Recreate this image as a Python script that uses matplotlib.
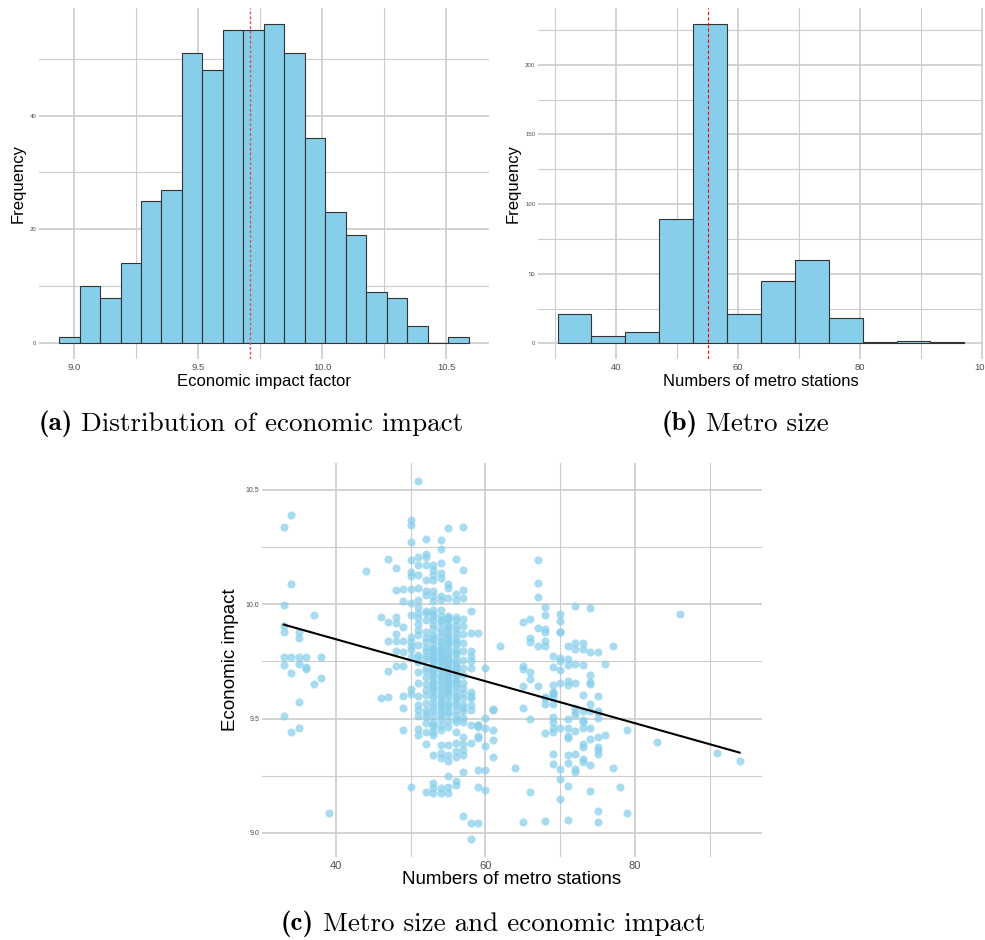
import numpy as np
import matplotlib.pyplot as plt
from matplotlib.ticker import MultipleLocator

plt.rcParams['font.family'] = ['Liberation Sans', 'DejaVu Sans']

# (a) histogram of the economic impact factor
impact_counts = [1, 10, 8, 14, 25, 27, 51, 48, 55, 55, 56, 51, 36, 23, 19, 9, 8, 3, 0, 1]
impact_bin_range = (8.941, 10.589)
impact_mean = 9.709

# (b) histogram of metro size
station_counts = [21, 5, 8, 89, 229, 21, 45, 60, 18, 1, 2, 1]
station_bin_range = (30.5, 97.05)
station_mean = 55.06

# (c) scatter: stations per metro and the impact values found in that column
station_cols = [33, 34, 35, 36, 37, 38, 39, 44, 46, 47, 48, 49, 50, 51, 52,
                53, 54, 55, 56, 57, 58, 59, 60, 61, 62, 64, 65, 66, 67, 68,
                69, 70, 71, 72, 73, 74, 75, 76, 77, 78, 79, 83, 86, 91, 94]
impact_cols = [
    [10.338, 9.997, 9.906, 9.877, 9.767, 9.732, 9.512],
    [10.389, 10.087, 9.767, 9.698, 9.440],
    [9.877, 9.850, 9.770, 9.740, 9.574, 9.459],
    [9.770, 9.727, 9.718],
    [9.953, 9.650],
    [9.770, 9.677],
    [9.088],
    [10.146],
    [9.943, 9.590],
    [10.195, 9.923, 9.838, 9.708, 9.592],
    [10.157, 10.063, 9.943, 9.918, 9.869, 9.838, 9.795, 9.730],
    [10.068, 10.013, 9.901, 9.840, 9.789, 9.730, 9.598, 9.548, 9.450],
    [10.367, 10.344, 10.272, 10.192, 10.140, 10.125, 10.068, 10.006, 9.953,
     9.857, 9.835, 9.815, 9.800, 9.768, 9.628, 9.607, 9.203],
    [10.540, 10.208, 10.172, 10.128, 10.070, 10.020, 9.988, 9.963, 9.940,
     9.914, 9.888, 9.866, 9.822, 9.779, 9.771, 9.745, 9.705, 9.655, 9.600,
     9.560, 9.538, 9.512, 9.455, 9.430],
    [10.285, 10.217, 10.205, 10.169, 10.107, 10.057, 10.040, 9.969, 9.960,
     9.930, 9.876, 9.850, 9.835, 9.810, 9.795, 9.774, 9.760, 9.720, 9.708,
     9.680, 9.650, 9.625, 9.604, 9.570, 9.538, 9.523, 9.508, 9.480, 9.440,
     9.387, 9.181],
    [10.169, 10.151, 10.129, 10.107, 10.057, 10.035, 10.013, 9.976, 9.958,
     9.929, 9.907, 9.867, 9.846, 9.824, 9.802, 9.780, 9.758, 9.740, 9.720,
     9.698, 9.677, 9.655, 9.633, 9.604, 9.567, 9.531, 9.487, 9.465, 9.443,
     9.429, 9.342, 9.218, 9.196, 9.174,
     9.950, 9.890, 9.850, 9.810, 9.790, 9.770, 9.750, 9.710, 9.690, 9.660,
     9.640, 9.620, 9.590, 9.550, 9.510, 9.470],
    [10.280, 10.243, 10.180, 10.137, 10.115, 10.035, 10.020, 9.976, 9.948,
     9.921, 9.896, 9.860, 9.832, 9.802, 9.780, 9.758, 9.749, 9.720, 9.691,
     9.662, 9.633, 9.604, 9.574, 9.545, 9.516, 9.472, 9.385, 9.349, 9.327,
     9.196, 9.174,
     9.930, 9.880, 9.840, 9.810, 9.790, 9.770, 9.740, 9.710, 9.680, 9.650,
     9.620, 9.590, 9.560, 9.530, 9.500, 9.450],
    [10.332, 10.086, 10.071, 10.028, 9.950, 9.933, 9.911, 9.890, 9.875,
     9.846, 9.824, 9.795, 9.780, 9.760, 9.740, 9.720, 9.700, 9.680, 9.660,
     9.640, 9.620, 9.600, 9.575, 9.550, 9.520, 9.490, 9.465, 9.385, 9.342,
     9.315, 9.250, 9.203, 9.174,
     9.940, 9.900, 9.860, 9.835, 9.810, 9.770, 9.750, 9.730, 9.710, 9.690,
     9.670, 9.650, 9.630, 9.610, 9.560, 9.530],
    [10.195, 10.046, 10.020, 9.944, 9.930, 9.890, 9.875, 9.853, 9.824,
     9.802, 9.780, 9.749, 9.727, 9.705, 9.684, 9.662, 9.640, 9.618, 9.589,
     9.560, 9.538, 9.516, 9.487, 9.443, 9.393, 9.356, 9.334, 9.225, 9.210,
     9.910, 9.840, 9.790, 9.760, 9.740, 9.715, 9.695, 9.670, 9.650, 9.600,
     9.570, 9.500],
    [10.336, 10.148, 10.061, 10.028, 9.933, 9.904, 9.831, 9.795, 9.756,
     9.691, 9.655, 9.633, 9.589, 9.560, 9.531, 9.502, 9.487, 9.421, 9.389,
     9.363, 9.342, 9.266, 9.072,
     9.870, 9.720, 9.610, 9.545],
    [9.969, 9.875, 9.795, 9.773, 9.720, 9.618, 9.589, 9.560, 9.538, 9.472,
     9.392, 9.043, 8.974, 9.600, 9.750],
    [9.875, 9.472, 9.461, 9.423, 9.417, 9.276, 9.203, 9.045, 9.470],
    [9.720, 9.502, 9.458, 9.378, 9.276, 9.188],
    [9.539, 9.451, 9.407, 9.334, 9.540],
    [9.819],
    [9.283],
    [9.921, 9.730, 9.716, 9.644, 9.545, 9.050],
    [9.936, 9.850, 9.835, 9.703, 9.674, 9.499, 9.178],
    [10.194, 10.093, 10.029, 9.895, 9.819, 9.641],
    [9.987, 9.952, 9.890, 9.877, 9.837, 9.815, 9.594, 9.590, 9.563, 9.436,
     9.053],
    [9.774, 9.726, 9.647, 9.618, 9.610, 9.608, 9.596, 9.563, 9.506, 9.484,
     9.458, 9.443, 9.344, 9.301],
    [9.958, 9.928, 9.880, 9.877, 9.765, 9.752, 9.711, 9.656, 9.458, 9.281,
     9.238, 9.149],
    [9.818, 9.761, 9.733, 9.663, 9.647, 9.500, 9.458, 9.424, 9.417, 9.340,
     9.305, 9.207, 9.057],
    [9.991, 9.831, 9.806, 9.739, 9.657, 9.544, 9.529, 9.517, 9.445, 9.344,
     9.280, 9.267],
    [9.830, 9.804, 9.732, 9.604, 9.535, 9.494, 9.484, 9.458, 9.389, 9.375,
     9.325, 9.310],
    [9.981, 9.790, 9.689, 9.659, 9.650, 9.563, 9.531, 9.458, 9.411, 9.298,
     9.184],
    [9.790, 9.598, 9.531, 9.530, 9.504, 9.420, 9.375, 9.363, 9.344, 9.098,
     9.049],
    [9.738, 9.430],
    [9.818, 9.283],
    [9.202],
    [9.451, 9.088],
    [9.398],
    [9.956],
    [9.349],
    [9.314],
]

stations = np.repeat(station_cols, [len(c) for c in impact_cols])
impact = np.concatenate(impact_cols)

grid_col = '#cccccc'
tick_col = '#4d4d4d'
bar_col = '#87ceeb'


def style_axes(ax, xmaj, xmin, ymaj, ymin, xsize, ysize):
    ax.xaxis.set_major_locator(MultipleLocator(xmaj))
    ax.xaxis.set_minor_locator(MultipleLocator(xmin))
    ax.yaxis.set_major_locator(MultipleLocator(ymaj))
    ax.yaxis.set_minor_locator(MultipleLocator(ymin))
    ax.grid(which='major', color=grid_col, lw=1.2)
    ax.grid(which='minor', color=grid_col, lw=0.8)
    ax.set_axisbelow(True)
    for s in ax.spines.values():
        s.set_visible(False)
    ax.tick_params(which='both', length=0, colors=tick_col)
    ax.tick_params(axis='x', labelsize=xsize, pad=3)
    ax.tick_params(axis='y', labelsize=ysize, pad=2)


fig = plt.figure(figsize=(9.85, 9.4), dpi=100)

# (a)
ax1 = fig.add_axes([0.0396, 0.618, 0.457, 0.3735])
edges = np.linspace(*impact_bin_range, len(impact_counts) + 1)
ax1.bar(edges[:-1], impact_counts, width=np.diff(edges), align='edge',
        color=bar_col, edgecolor='#333333', linewidth=0.8)
ax1.axvline(impact_mean, color='#cd5555', ls=(0, (2, 1.5)), lw=1.0)
ax1.set_xlim(8.86, 10.672)
ax1.set_ylim(-2.8, 58.9)
style_axes(ax1, 0.5, 0.25, 20, 10, 6.8, 4.3)
ax1.set_xlabel('Economic impact factor', fontsize=12, labelpad=1)
ax1.set_ylabel('Frequency', fontsize=12, labelpad=3)

# (b)
ax2 = fig.add_axes([0.5462, 0.618, 0.4518, 0.3735])
edges = np.linspace(*station_bin_range, len(station_counts) + 1)
ax2.bar(edges[:-1], station_counts, width=np.diff(edges), align='edge',
        color=bar_col, edgecolor='#333333', linewidth=0.8)
ax2.axvline(station_mean, color='red', ls=(0, (3, 2)), lw=0.8)
ax2.set_xlim(27.3, 100.1)
ax2.set_ylim(-11.3, 240.8)
style_axes(ax2, 20, 10, 50, 25, 6.8, 4.3)
ax2.set_xlabel('Numbers of metro stations', fontsize=12, labelpad=1)
ax2.set_ylabel('Frequency', fontsize=12, labelpad=3)

# (c)
ax3 = fig.add_axes([0.266, 0.0883, 0.5076, 0.419])
ax3.scatter(stations, impact, s=34, color='skyblue', alpha=0.72, linewidths=0)
coef = np.polyfit(stations, impact, 1)
xx = np.array([stations.min(), stations.max()])
ax3.plot(xx, np.polyval(coef, xx), color='black', lw=1.5)
ax3.set_xlim(30.1, 97.0)
ax3.set_ylim(8.895, 10.616)
style_axes(ax3, 20, 10, 0.5, 0.25, 8, 5)
ax3.set_xlabel('Numbers of metro stations', fontsize=13.5, labelpad=0)
ax3.set_ylabel('Economic impact', fontsize=13.5, labelpad=5)


# captions: bold tag in cmb10, text in cmr10, centred as a whole
def caption(xc, yc, tag, body, size=19.5):
    r = fig.canvas.get_renderer()
    t1 = fig.text(0, yc, tag, family='cmb10', fontsize=size, va='center')
    t2 = fig.text(0, yc, body, family='cmr10', fontsize=size, va='center')
    w1 = t1.get_window_extent(r).width
    w2 = t2.get_window_extent(r).width
    gap = size * 0.45
    W = fig.bbox.width
    x0 = xc * W - (w1 + gap + w2) / 2
    t1.set_x(x0 / W)
    t2.set_x((x0 + w1 + gap) / W)


caption(251 / 985, 1 - 424 / 940, '(a)', 'Distribution of economic impact')
caption(745 / 985, 1 - 424 / 940, '(b)', 'Metro size')
caption(493 / 985, 1 - 924 / 940, '(c)', 'Metro size and economic impact')

fig.savefig('out.png', dpi=100)
